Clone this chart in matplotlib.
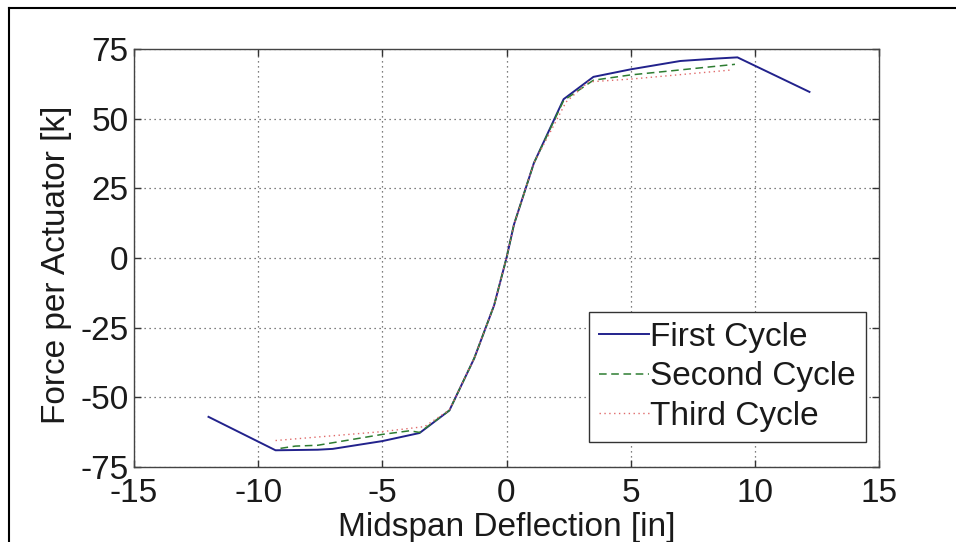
import matplotlib
matplotlib.use("Agg")
import matplotlib.pyplot as plt
from matplotlib.lines import Line2D

# ---- data ----
x_first = [-12.0, -9.3, -7.6, -7.0, -5.0, -3.5, -2.3, -1.3, -0.5, 0.0, 0.3, 1.1, 2.3, 3.5, 5.0, 7.0, 8.5, 9.3, 12.2]
y_first = [-57.0, -69.0, -68.8, -68.5, -65.7, -62.8, -54.7, -36.0, -17.0, 0.0, 12.0, 34.0, 57.0, 65.0, 67.7, 70.7, 71.6, 72.0, 59.6]

x_second = [-9.1, -8.5, -7.6, -5.0, -3.9, -3.5, -2.3, -1.3, -0.5, 0.0, 0.3, 1.1, 2.3, 3.5, 5.0, 7.0, 9.2]
y_second = [-68.3, -67.5, -67.2, -63.3, -62.0, -62.6, -54.7, -36.0, -17.0, 0.0, 12.0, 34.0, 56.5, 63.8, 65.7, 67.5, 69.5]

x_third = [-9.3, -5.0, -3.3, -2.3, -1.3, -0.5, 0.0, 0.3, 1.1, 2.4, 3.3, 5.0, 7.0, 9.1]
y_third = [-65.5, -62.3, -60.5, -54.5, -36.0, -17.0, 0.0, 12.0, 34.0, 56.0, 63.2, 64.2, 65.8, 67.5]

series_labels = ["First Cycle", "Second Cycle", "Third Cycle"]
x_ticks = [-15, -10, -5, 0, 5, 10, 15]
y_ticks = [-75, -50, -25, 0, 25, 50, 75]

plt.rcParams['font.family'] = ['Liberation Sans', 'DejaVu Sans']
plt.rcParams['axes.unicode_minus'] = False

W, H = 956, 542
fig = plt.figure(figsize=(W / 100, H / 100), dpi=100)
ax = fig.add_axes([134 / W, (H - 467) / H, (879 - 134) / W, (467 - 49) / H])

ax.plot(x_first, y_first, color='#22228c', lw=1.4, ls='-', label=series_labels[0])
ax.plot(x_second, y_second, color='#2e7d32', lw=1.1, ls=(0, (5, 3)), label=series_labels[1])
ax.plot(x_third, y_third, color='#e06a6a', lw=1.0, ls=(0, (1, 2.5)), label=series_labels[2])

ax.set_xlim(-15, 15)
ax.set_ylim(-75, 75)
ax.set_xticks(x_ticks)
ax.set_yticks(y_ticks)
ax.set_xticklabels([str(t) for t in x_ticks])
ax.set_yticklabels([str(t) for t in y_ticks])

fs = 24
txtc = '#1a1a1a'
ax.tick_params(direction='in', length=5, width=1, colors='#333333', labelcolor=txtc,
               labelsize=fs, top=True, right=True)
ax.tick_params(axis='x', pad=8)
ax.tick_params(axis='y', pad=4)
ax.grid(True, color='#555555', ls=(0, (1, 3)), lw=0.9)
for s in ax.spines.values():
    s.set_color('#444444')
    s.set_linewidth(1.0)

ax.set_xlabel('Midspan Deflection [in]', fontsize=fs, color=txtc, labelpad=2)
ax.set_ylabel('Force per Actuator [k]', fontsize=fs, color=txtc)
ax.yaxis.set_label_coords((72 - 134) / (879 - 134), (467 - 265) / (467 - 49))

leg = ax.legend(loc='lower right', bbox_to_anchor=((866 - 134) / (879 - 134), (467 - 442) / (467 - 49)),
                fontsize=fs, frameon=True, fancybox=False, framealpha=1.0,
                edgecolor='#333333', handlelength=1.5, handletextpad=0.05,
                borderpad=0.3, labelspacing=0.26, borderaxespad=0)
leg.get_frame().set_linewidth(1.0)
for t in leg.get_texts():
    t.set_color(txtc)

# outer frame (left and top visible)
fig.add_artist(Line2D([8.5 / W, 8.5 / W], [0, 1 - 7.5 / H], transform=fig.transFigure, color='black', lw=1.5))
fig.add_artist(Line2D([8.5 / W, 1], [1 - 7.5 / H, 1 - 7.5 / H], transform=fig.transFigure, color='black', lw=1.5))

fig.savefig('out.png', dpi=100)
